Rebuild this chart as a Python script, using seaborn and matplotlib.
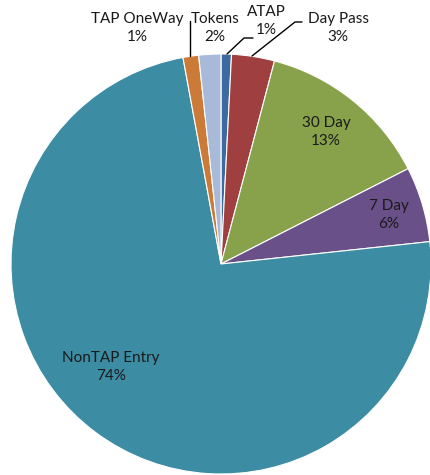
import matplotlib
matplotlib.use("Agg")
import matplotlib.pyplot as plt
import seaborn as sns

# ---- data ----
categories = ["ATAP", "Day Pass", "30 Day", "7 Day", "NonTAP Entry", "TAP OneWay", "Tokens"]
values = [0.8, 3.3, 13.4, 5.8, 73.8, 1.2, 1.7]
colors = ["#3D69A1", "#9F3F3F", "#88A24B", "#6A5088", "#3C8CA3", "#CC7A38", "#A9B9D8"]

sns.set_theme(style="white")
plt.rcParams["font.family"] = ["Lato", "DejaVu Sans"]

W, H = 430, 475
fig = plt.figure(figsize=(W / 100, H / 100), dpi=100)
ax = fig.add_axes([0, 0, 1, 1])

cx, cy, r = 221, 264, 210
ax.pie(values, colors=colors, startangle=90, counterclock=False,
       center=(cx, H - cy), radius=r, frame=True,
       wedgeprops=dict(edgecolor="white", linewidth=0.8))
ax.set_xlim(0, W)
ax.set_ylim(0, H)
ax.set_aspect("equal")
ax.axis("off")

total = sum(values)
pcts = [f"{round(v / total * 100):d}%" for v in values]

# label layout (pixel coordinates, y from top)
label_pos = {
    "ATAP": (266, 21),
    "Day Pass": (338, 28),
    "30 Day": (326, 132),
    "7 Day": (389, 215),
    "NonTAP Entry": (111, 367),
    "TAP OneWay": (137, 28),
    "Tokens": (215, 28),
}
fs = 11
for cat, p in zip(categories, pcts):
    x, y = label_pos[cat]
    ax.text(x, H - y, f"{cat}\n{p}", ha="center", va="center", fontsize=fs,
            color="#1a1a1a", linespacing=1.45)

# leader lines
leaders = [
    [(190, 56), (190, 21)],
    [(227, 54), (244, 38), (253, 38)],
    [(252, 56), (295, 22), (302, 22)],
]
for pts in leaders:
    xs = [p[0] for p in pts]
    ys = [H - p[1] for p in pts]
    ax.plot(xs, ys, color="black", linewidth=1)

fig.savefig("out.png", dpi=100)
